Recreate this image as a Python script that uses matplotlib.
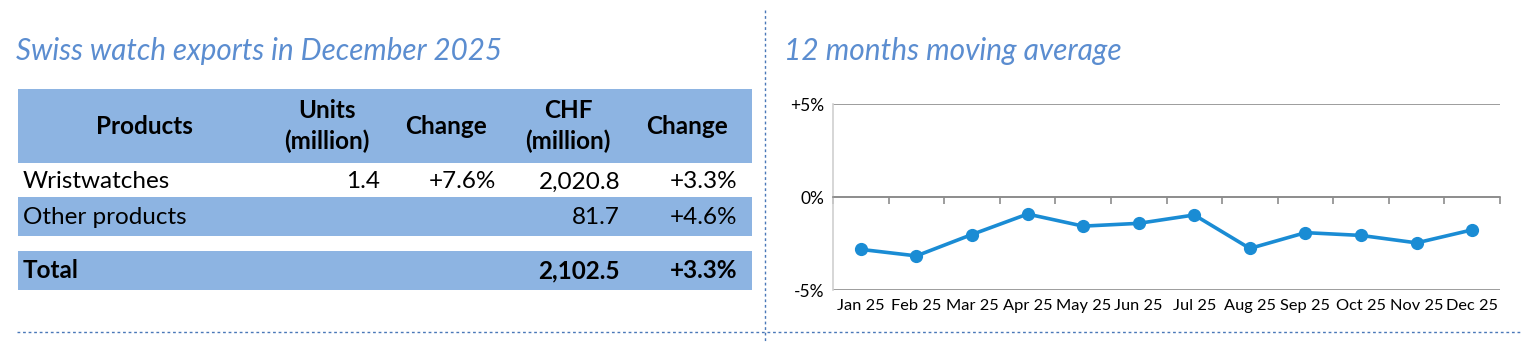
import matplotlib
matplotlib.use("Agg")
import matplotlib.pyplot as plt
from matplotlib.lines import Line2D
from matplotlib.patches import Rectangle

# --- data ---
table_title = "Swiss watch exports in December 2025"
chart_title = "12 months moving average"

header_cols = ["Products", "Units\n(million)", "Change", "CHF\n(million)", "Change"]
row_labels = ["Wristwatches", "Other products", "Total"]
units = ["1.4", "", ""]
units_change = ["+7.6%", "", ""]
chf = ["2,020.8", "81.7", "2,102.5"]
chf_change = ["+3.3%", "+4.6%", "+3.3%"]

months = ["Jan 25", "Feb 25", "Mar 25", "Apr 25", "May 25", "Jun 25",
          "Jul 25", "Aug 25", "Sep 25", "Oct 25", "Nov 25", "Dec 25"]
moving_avg = [-2.8, -3.15, -2.0, -0.9, -1.55, -1.4,
              -0.95, -2.75, -1.9, -2.05, -2.45, -1.75]

# --- style ---
FONT = "Lato"
TITLE_COL = "#5b8dd0"
BAND_COL = "#8db4e2"
LINE_COL = "#1a8cd4"
DOT_COL = "#4a78b8"
W, H = 1521, 342

plt.rcParams["font.family"] = [FONT, "DejaVu Sans"]

fig = plt.figure(figsize=(W / 100, H / 100), dpi=100)

# pixel-space overlay for table and separators
bg = fig.add_axes([0, 0, 1, 1])
bg.set_xlim(0, W)
bg.set_ylim(H, 0)
bg.axis("off")

# dotted separators
bg.add_line(Line2D([765, 765], [10, H], color=DOT_COL, lw=1, ls=(0, (2, 2))))
bg.add_line(Line2D([17, W], [332, 332], color=DOT_COL, lw=1, ls=(0, (2, 2))))

# titles
bg.text(16, 51, table_title, fontsize=21.3, style="italic", color=TITLE_COL, va="center", ha="left")
bg.text(784, 51, chart_title, fontsize=21.5, style="italic", color=TITLE_COL, va="center", ha="left")

# table bands
tx0, tx1 = 18, 752
bg.add_patch(Rectangle((tx0, 89), tx1 - tx0, 73.5, color=BAND_COL, lw=0))
bg.add_patch(Rectangle((tx0, 197), tx1 - tx0, 39, color=BAND_COL, lw=0))
bg.add_patch(Rectangle((tx0, 251), tx1 - tx0, 39, color=BAND_COL, lw=0))

# header
head_x = [144, 327, 446, 568, 687]
for x, h in zip(head_x, header_cols):
    bg.text(x, 126, h, fontsize=17.5, fontweight="bold", ha="center", va="center",
            linespacing=1.4, color="black")

# rows
row_y = [182, 217, 271]
col_right = [380, 496, 620, 737]
for i, label in enumerate(row_labels):
    weight = "bold" if label == "Total" else "normal"
    bg.text(23, row_y[i], label, fontsize=17.5, fontweight=weight, ha="left", va="center")
    for xr, vals in zip(col_right, [units, units_change, chf, chf_change]):
        if vals[i]:
            bg.text(xr, row_y[i], vals[i], fontsize=17.5, fontweight=weight, ha="right", va="center")

# --- line chart ---
ax = fig.add_axes([833 / W, 1 - 290.3 / H, (1500 - 833) / W, (290.3 - 104.3) / H])
x = list(range(len(months)))
ax.plot(x, moving_avg, color=LINE_COL, lw=2.6, marker="o", markersize=8.5, zorder=3)
ax.set_xlim(-0.5, len(months) - 0.5)
ax.set_ylim(-5, 5)

ax.set_yticks([-5, 0, 5], labels=["-5%", "0%", "+5%"])
ax.yaxis.grid(True, color="#8c8c8c", lw=1.2)
ax.set_axisbelow(True)
ax.tick_params(axis="y", length=0, pad=6, labelsize=12.5)

for s in ["top", "right"]:
    ax.spines[s].set_visible(False)
ax.spines["left"].set_color("#d0d0d0")
ax.spines["left"].set_linewidth(1.2)
ax.spines["bottom"].set_position(("data", 0))
ax.spines["bottom"].set_color("#8c8c8c")
ax.spines["bottom"].set_linewidth(1.2)

# category boundary ticks on the zero line
ax.set_xticks([i - 0.5 for i in range(len(months) + 1)], labels=[""] * (len(months) + 1))
ax.tick_params(axis="x", direction="out", length=5, width=1.2, color="#8c8c8c")

# month labels below the chart
sec = ax.secondary_xaxis("bottom")
sec.set_xticks(x, labels=months)
sec.tick_params(length=0, pad=6, labelsize=11.8)
sec.spines["bottom"].set_visible(False)

fig.savefig("out.png", dpi=100)
